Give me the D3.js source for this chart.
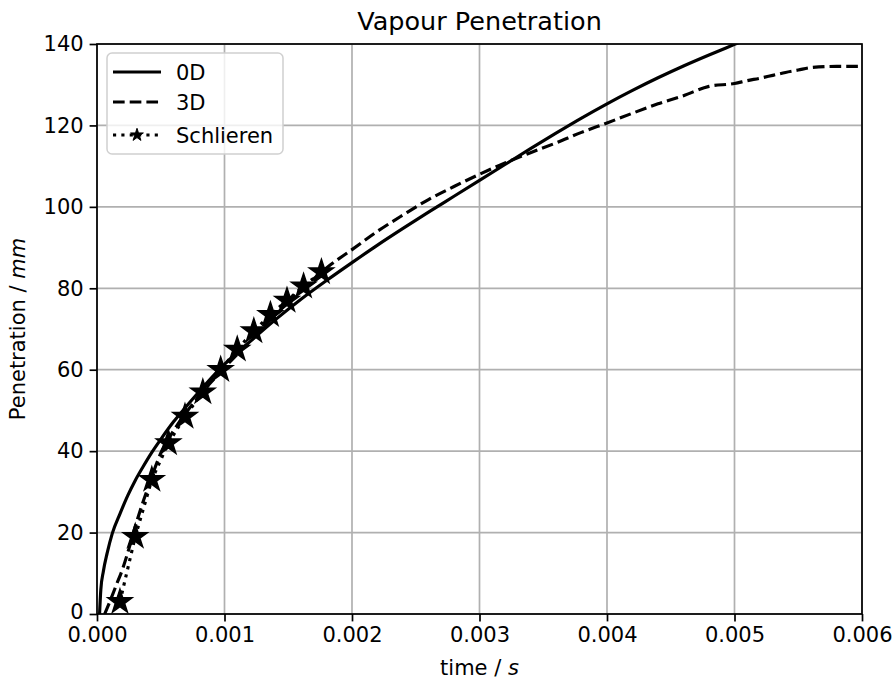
<!DOCTYPE html>
<html>
<head>
<meta charset="utf-8">
<script src="https://cdn.jsdelivr.net/npm/d3@7"></script>
<style>
  html, body { margin: 0; padding: 0; background: #fff; }
  svg { display: block; font-family: "DejaVu Sans", sans-serif; }
</style>
</head>
<body>
<svg id="chart" width="896" height="685"></svg>
<script>
// Axis ticks
const timeTicks = [0, 0.001, 0.002, 0.003, 0.004, 0.005, 0.006];
const penetrationTicks = [0, 20, 40, 60, 80, 100, 120, 140];

// 0D model: time (s) and vapour penetration (mm)
const odTime = [0.00002, 0.00003, 0.00005, 0.00008, 0.00012, 0.00018, 0.00024, 0.0003, 0.00036,
  0.00043, 0.0005, 0.0006, 0.00069, 0.0008, 0.00096, 0.0012, 0.0014, 0.0016, 0.0018, 0.002,
  0.0022, 0.0024, 0.0026, 0.0028, 0.003, 0.0032, 0.0034, 0.0036, 0.0038, 0.004, 0.0042, 0.0044,
  0.0046, 0.0048, 0.005, 0.0051];
const odPen = [0, 6, 10.5, 15, 19.8, 24.6, 29, 32.8, 36.1,
  39.7, 42.9, 47.2, 50.6, 54.6, 60.1, 66.9, 72.3, 77.3, 81.9, 86.3,
  90.6, 94.7, 98.7, 102.6, 106.5, 110.4, 114.3, 118.1, 121.8, 125.3, 128.6, 131.7,
  134.6, 137.3, 139.9, 141.2];

// 3D CFD result
const cfdTime = [0.00006, 0.0001, 0.00015, 0.0002, 0.00025, 0.0003, 0.00035, 0.0004, 0.00045, 0.0005,
  0.0006, 0.0007, 0.0008, 0.001, 0.0012, 0.0014, 0.0016, 0.0018, 0.002, 0.0022, 0.0024, 0.0026,
  0.0028, 0.003, 0.0032, 0.0034, 0.0036, 0.0038, 0.004, 0.0042, 0.0044, 0.0046, 0.0048, 0.005,
  0.0051, 0.0052, 0.0053, 0.0054, 0.0055, 0.0056, 0.0058, 0.006];
const cfdPen = [0, 3, 7, 11, 16, 21.5, 26.5, 31, 35.5, 39.5,
  45, 49.5, 53.5, 60.5, 67, 73.5, 79.5, 85, 89.5, 94, 98, 101.8,
  105, 108, 110.8, 113.3, 115.7, 118.3, 120.6, 123, 125.3, 127.3, 129.6, 130.3,
  131, 131.6, 132.3, 133, 133.6, 134.2, 134.5, 134.5];

// Schlieren measurements
const schlierenTime = [0.00018, 0.0003, 0.00043, 0.00056, 0.00069, 0.00083, 0.00097,
  0.0011, 0.00123, 0.00136, 0.00149, 0.00162, 0.00176];
const schlierenPen = [3, 19, 33, 42, 48.5, 54.5, 60, 65, 69.5, 73.5, 77, 80.5, 84];

const svg = d3.select("#chart");
const margin = { left: 97, right: 34, top: 44, bottom: 71 };
const W = 896, H = 685;
const plotW = W - margin.left - margin.right;
const plotH = H - margin.top - margin.bottom;

const x = d3.scaleLinear().domain([0, 0.006]).range([margin.left, margin.left + plotW]);
const y = d3.scaleLinear().domain([0, 140]).range([margin.top + plotH, margin.top]);

const lw = 3.15;
const fontSize = 21;

svg.append("defs").append("clipPath").attr("id", "plotClip")
  .append("rect")
  .attr("x", margin.left).attr("y", margin.top)
  .attr("width", plotW).attr("height", plotH);

// Grid
const grid = svg.append("g");
grid.selectAll("line.vx").data(timeTicks).join("line")
  .attr("x1", d => x(d)).attr("x2", d => x(d))
  .attr("y1", margin.top).attr("y2", margin.top + plotH)
  .attr("stroke", "#b0b0b0").attr("stroke-width", 1.7);
grid.selectAll("line.hy").data(penetrationTicks).join("line")
  .attr("x1", margin.left).attr("x2", margin.left + plotW)
  .attr("y1", d => y(d)).attr("y2", d => y(d))
  .attr("stroke", "#b0b0b0").attr("stroke-width", 1.7);

// Data layers
const plot = svg.append("g").attr("clip-path", "url(#plotClip)");
const smooth = d3.line().x(d => x(d[0])).y(d => y(d[1])).curve(d3.curveMonotoneX);
const straight = d3.line().x(d => x(d[0])).y(d => y(d[1]));

const odData = d3.zip(odTime, odPen);
const cfdData = d3.zip(cfdTime, cfdPen);
const schData = d3.zip(schlierenTime, schlierenPen);

plot.append("path").datum(odData)
  .attr("d", smooth).attr("fill", "none")
  .attr("stroke", "#000").attr("stroke-width", lw);

plot.append("path").datum(cfdData)
  .attr("d", smooth).attr("fill", "none")
  .attr("stroke", "#000").attr("stroke-width", lw)
  .attr("stroke-dasharray", `${3.7 * lw},${1.6 * lw}`);

plot.append("path").datum(schData)
  .attr("d", straight).attr("fill", "none")
  .attr("stroke", "#000").attr("stroke-width", lw)
  .attr("stroke-dasharray", `${1 * lw},${1.65 * lw}`);

const starBig = d3.symbol(d3.symbolStar).size(180);
plot.selectAll("path.star").data(schData).join("path")
  .attr("class", "star")
  .attr("d", starBig)
  .attr("transform", d => `translate(${x(d[0])},${y(d[1])})`)
  .attr("fill", "#000").attr("stroke", "#000").attr("stroke-width", 1.5);

// Frame
svg.append("rect")
  .attr("x", margin.left).attr("y", margin.top)
  .attr("width", plotW).attr("height", plotH)
  .attr("fill", "none").attr("stroke", "#000").attr("stroke-width", 1.7);

// X axis
const xAxis = d3.axisBottom(x).tickValues(timeTicks)
  .tickFormat(d3.format(".3f")).tickSize(7.4).tickPadding(6);
const gx = svg.append("g").attr("transform", `translate(0,${margin.top + plotH})`).call(xAxis);
gx.select(".domain").remove();
gx.selectAll(".tick line").attr("stroke", "#000").attr("stroke-width", 1.7);
gx.selectAll(".tick text").attr("fill", "#000")
  .style("font-size", fontSize + "px").style("font-family", "DejaVu Sans");

// Y axis
const yAxis = d3.axisLeft(y).tickValues(penetrationTicks)
  .tickFormat(d3.format("d")).tickSize(7.4).tickPadding(6);
const gy = svg.append("g").attr("transform", `translate(${margin.left},0)`).call(yAxis);
gy.select(".domain").remove();
gy.selectAll(".tick line").attr("stroke", "#000").attr("stroke-width", 1.7);
gy.selectAll(".tick text").attr("fill", "#000")
  .style("font-size", fontSize + "px").style("font-family", "DejaVu Sans");
// keep the bottom y label clear of the first time label
gy.selectAll(".tick text").filter(d => d === 0).attr("dy", "0.2em");

// Title
svg.append("text")
  .attr("x", margin.left + plotW / 2).attr("y", 30)
  .attr("text-anchor", "middle")
  .style("font-size", "25.5px").attr("fill", "#000")
  .text("Vapour Penetration");

// Axis labels
const xl = svg.append("text")
  .attr("x", margin.left + plotW / 2).attr("y", 675)
  .attr("text-anchor", "middle")
  .style("font-size", fontSize + "px").attr("fill", "#000");
xl.append("tspan").text("time / ");
xl.append("tspan").style("font-style", "italic").text("s");

const yl = svg.append("text")
  .attr("transform", `translate(25,${margin.top + plotH / 2}) rotate(-90)`)
  .attr("text-anchor", "middle")
  .style("font-size", fontSize + "px").attr("fill", "#000");
yl.append("tspan").text("Penetration / ");
yl.append("tspan").style("font-style", "italic").text("mm");

// Legend
const legend = svg.append("g");
legend.append("rect")
  .attr("x", 107).attr("y", 53).attr("width", 176).attr("height", 101)
  .attr("rx", 5).attr("ry", 5)
  .attr("fill", "#fff").attr("fill-opacity", 0.8)
  .attr("stroke", "#d0d0d0").attr("stroke-width", 1.5);

const legendItems = [
  { label: "0D", yPos: 72, dash: null, star: false },
  { label: "3D", yPos: 102, dash: `${3.7 * lw},${1.6 * lw}`, star: false },
  { label: "Schlieren", yPos: 135, dash: `${1 * lw},${1.65 * lw}`, star: true }
];
const starSmall = d3.symbol(d3.symbolStar).size(50);
legendItems.forEach(item => {
  legend.append("line")
    .attr("x1", 113).attr("x2", 161)
    .attr("y1", item.yPos).attr("y2", item.yPos)
    .attr("stroke", "#000").attr("stroke-width", lw)
    .attr("stroke-dasharray", item.dash);
  if (item.star) {
    legend.append("path").attr("d", starSmall)
      .attr("transform", `translate(137,${item.yPos})`)
      .attr("fill", "#000").attr("stroke", "#000").attr("stroke-width", 1);
  }
  legend.append("text")
    .attr("x", 176).attr("y", item.yPos).attr("dy", "0.36em")
    .style("font-size", fontSize + "px").attr("fill", "#000")
    .text(item.label);
});
</script>
</body>
</html>
